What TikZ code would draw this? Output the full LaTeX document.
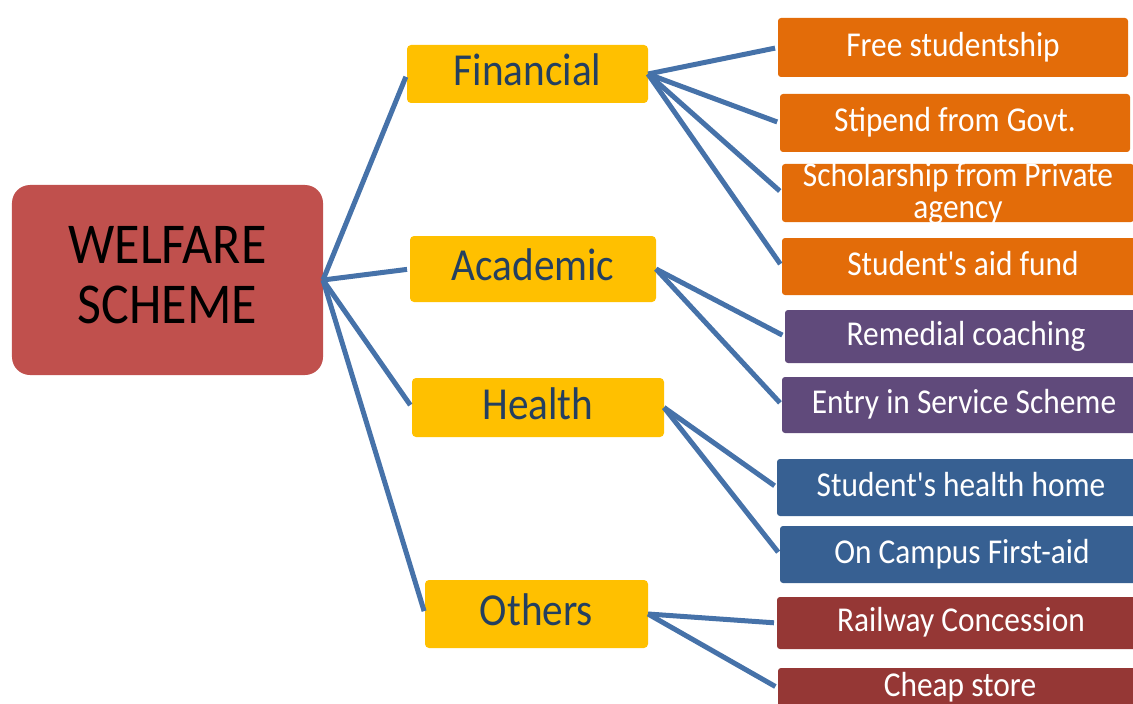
\documentclass[tikz,border=0pt]{standalone}
\usepackage{fontspec}
\setmainfont{Carlito}[FakeStretch=0.9, Ligatures=TeXOff]
\definecolor{rootred}{HTML}{C0504D}
\definecolor{gold}{HTML}{FFC000}
\definecolor{navy}{HTML}{243F60}
\definecolor{orng}{HTML}{E36C09}
\definecolor{purp}{HTML}{604A7B}
\definecolor{blu}{HTML}{376092}
\definecolor{dred}{HTML}{953735}
\definecolor{conncol}{HTML}{4672A9}
\tikzset{
  rootbox/.style={rectangle, rounded corners=18bp, fill=rootred, inner sep=0, outer sep=0},
  roottext/.style={align=center, text=black, font=\fontsize{58}{60}\selectfont, inner sep=0},
  catbox/.style={rectangle, rounded corners=4bp, fill=gold, text=navy, inner sep=0, outer sep=0,
    font=\fontsize{46}{50}\selectfont, text height=29.9bp, text depth=6.9bp},
  leafbox/.style={rectangle, rounded corners=3bp, text=white, inner sep=0, outer sep=0,
    font=\fontsize{35}{38}\selectfont, text height=22.75bp, text depth=5.25bp},
  leaftext/.style={align=center, text=white, font=\fontsize{35}{32}\selectfont, inner sep=0},
  conn/.style={draw=conncol, line width=5bp, shorten >=3bp}
}
\begin{document}
\begin{tikzpicture}[x=1bp,y=-1bp]
\useasboundingbox (0,0) rectangle (1133,704);
% root
\node[rootbox, minimum width=311bp, minimum height=190bp] (root) at (167.5,280) {};
\node[roottext] (roottxt) at (167.5,275.5) {WELFARE\\SCHEME};
% categories
\node[catbox, minimum width=241bp, minimum height=58bp] (fin) at (527.5,74) {Financial};
\node[catbox, minimum width=246bp, minimum height=66bp] (aca) at (533,269) {Academic};
\node[catbox, minimum width=252bp, minimum height=59bp] (hea) at (538,407.5) {Health};
\node[catbox, minimum width=223bp, minimum height=68bp] (oth) at (536.5,614) {Others};
% leaves
\node[leafbox, fill=orng, minimum width=350bp, minimum height=59bp] (free) at (953,47.5) {Free studentship};
\node[leafbox, fill=orng, minimum width=350bp, minimum height=58bp] (stip) at (955,123) {Stipend from Govt.};
\node[leafbox, fill=orng, minimum width=352bp, minimum height=58bp] (schol) at (958,193) {};
\begin{scope}
  \clip (schol.north west) rectangle (schol.south east);
  \node[leaftext] (scholtxt) at (958,193) {Scholarship from Private\\agency};
\end{scope}
\node[leafbox, fill=orng, minimum width=362bp, minimum height=57bp] (aid) at (963,266.5) {Student's aid fund};
\node[leafbox, fill=purp, minimum width=362bp, minimum height=53bp] (rem) at (966,336.5) {Remedial coaching};
\node[leafbox, fill=purp, minimum width=364bp, minimum height=56bp] (entry) at (964,405) {Entry in Service Scheme};
\node[leafbox, fill=blu, minimum width=368bp, minimum height=57bp] (hhome) at (961,487.5) {Student's health home};
\node[leafbox, fill=blu, minimum width=364bp, minimum height=57bp] (faid) at (962,554.5) {On Campus First-aid};
\node[leafbox, fill=dred, minimum width=368bp, minimum height=52bp] (rail) at (961,623) {Railway Concession};
\node[leafbox, fill=dred, minimum width=364bp, minimum height=40bp] (cheap) at (960,688) {Cheap store};
% connectors
\draw[conn] (root.east) -- (fin.west);
\draw[conn] (root.east) -- (aca.west);
\draw[conn] (root.east) -- (hea.west);
\draw[conn] (root.east) -- (oth.west);
\draw[conn] (fin.east) -- (free.west);
\draw[conn] (fin.east) -- (stip.west);
\draw[conn] (fin.east) -- (schol.west);
\draw[conn] (fin.east) -- (aid.west);
\draw[conn] (aca.east) -- (rem.west);
\draw[conn] (aca.east) -- (entry.west);
\draw[conn] (hea.east) -- (hhome.west);
\draw[conn] (hea.east) -- (faid.west);
\draw[conn] (oth.east) -- (rail.west);
\draw[conn] (oth.east) -- (cheap.west);
\end{tikzpicture}
\end{document}
